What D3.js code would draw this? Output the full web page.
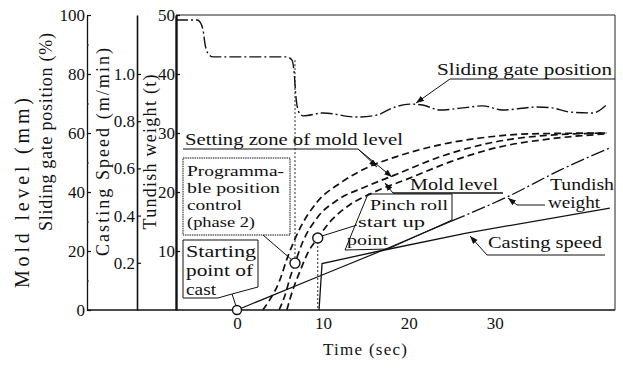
<!DOCTYPE html>
<html>
<head>
<meta charset="utf-8">
<script src="https://cdn.jsdelivr.net/npm/d3@7"></script>
<style>
  body { margin: 0; background: #fff; }
  text { font-family: "Liberation Serif", serif; fill: #111; }
</style>
</head>
<body>
<div id="chart"></div>
<script>
// tick labels
const timeTicks = [0, 10, 20, 30];
const moldTicks = [0, 20, 40, 60, 80, 100];
const speedTicks = [0.2, 0.4, 0.6, 0.8, 1.0];
const weightTicks = [10, 20, 30, 40, 50];

// sliding gate position (%)
const gateTime = [-7.1, -4.65, -4.3, -3.95, -3.7, -3.4, -2.8, 1.5, 5.8, 6.4, 6.6, 6.9, 7.2, 7.7, 10.0, 13.9, 16.3, 18.1, 20.1, 21.6, 23.6, 26.3, 28.6, 30.9, 34.9, 36.7, 38.7, 41.4, 43.0];
const gatePct = [98.3, 98.3, 97.6, 94.9, 89.8, 87.1, 85.8, 85.8, 85.8, 84.7, 82.0, 71.2, 67.1, 65.8, 66.8, 65.4, 66.1, 68.5, 69.8, 69.5, 67.8, 68.5, 69.2, 67.8, 68.8, 68.5, 67.1, 66.8, 69.5];

// mold level (mm): setting zone bounds and actual level
const zoneHiTime = [3.0, 3.8, 4.9, 5.9, 7.3, 9.3, 12.0, 15.2, 19.0, 23.6, 28.3, 34.1, 43.0];
const zoneHiMm = [0, 3.4, 9.5, 18.0, 27.5, 36.5, 43.0, 48.3, 52.4, 56.0, 58.3, 59.7, 60.0];
const moldTime = [4.9, 5.6, 6.2, 6.75, 7.6, 9.4, 11.7, 14.9, 18.4, 23.6, 29.4, 35.2, 43.0];
const moldMm = [0, 5.1, 11.2, 15.9, 22.7, 31.5, 37.3, 41.7, 45.8, 51.9, 56.6, 59.0, 60.0];
const zoneLoTime = [5.8, 6.5, 7.3, 8.3, 9.4, 10.8, 13.1, 16.0, 20.1, 24.8, 30.6, 36.4, 43.0];
const zoneLoMm = [0, 6.8, 12.9, 19.7, 24.4, 29.8, 35.6, 40.0, 44.7, 50.2, 55.3, 58.0, 59.7];

// tundish weight (t)
const weightTime = [0, 9.7, 17.6, 25.0, 31.5, 37.6, 43.6];
const weightTon = [0, 5.8, 10.5, 15.1, 19.2, 23.7, 27.6];

// casting speed (m/min)
const speedTime = [9.55, 9.9, 16.6, 26.7, 43.4];
const speedVal = [0, 0.197, 0.25, 0.326, 0.432];

// marked points (start of cast, phase 2, pinch roll start)
const markTime = [0, 6.75, 9.4];
const markMm = [0, 15.9, 24.4];

const width = 623, height = 371;
const svg = d3.select("#chart").append("svg")
  .attr("width", width).attr("height", height);

const defs = svg.append("defs");
defs.append("marker").attr("id", "arr")
  .attr("markerUnits", "userSpaceOnUse")
  .attr("markerWidth", 9).attr("markerHeight", 7)
  .attr("refX", 8).attr("refY", 3).attr("orient", "auto")
  .append("path").attr("d", "M0,0 L8,3 L0,6 z").attr("fill", "#111");

const x = d3.scaleLinear().domain([-7.1, 44]).range([176, 615]);
const yMold = d3.scaleLinear().domain([0, 100]).range([310, 15]);
const ySpeed = d3.scaleLinear().domain([0, 1.25]).range([310, 15]);
const yWeight = d3.scaleLinear().domain([0, 50]).range([310, 15]);

// frame
svg.append("line").attr("x1", 87).attr("x2", 615).attr("y1", 310).attr("y2", 310)
  .attr("stroke", "#111").attr("stroke-width", 1.5);
svg.append("line").attr("x1", 176).attr("x2", 615).attr("y1", 15).attr("y2", 15)
  .attr("stroke", "#222").attr("stroke-width", 1.2);
svg.append("line").attr("x1", 615).attr("x2", 615).attr("y1", 15).attr("y2", 310)
  .attr("stroke", "#222").attr("stroke-width", 1);

const styleAxis = (g, w) => {
  g.select(".domain").attr("stroke", "#111").attr("stroke-width", w);
  g.selectAll(".tick line").attr("stroke", "#111").attr("stroke-width", 1.2);
  g.selectAll(".tick text").style("font-family", "'Liberation Serif', serif")
    .style("font-size", "17px").attr("fill", "#111");
};

svg.append("g").attr("transform", "translate(87,0)")
  .call(d3.axisLeft(yMold).tickValues(moldTicks).tickSizeInner(-4).tickSizeOuter(0).tickPadding(2))
  .call(g => styleAxis(g, 1.3));
svg.append("g").attr("transform", "translate(87,0)")
  .call(d3.axisLeft(yMold).tickValues([10, 30, 50, 70, 90]).tickSizeInner(-2).tickSizeOuter(0).tickFormat(""))
  .call(g => g.select(".domain").remove())
  .call(g => g.selectAll(".tick line").attr("stroke", "#333"));

svg.append("g").attr("transform", "translate(137,0)")
  .call(d3.axisLeft(ySpeed).tickValues(speedTicks).tickSizeInner(-4).tickSizeOuter(0).tickPadding(2)
    .tickFormat(d3.format(".1f")))
  .call(g => styleAxis(g, 1.6));

svg.append("g").attr("transform", "translate(176,0)")
  .call(d3.axisLeft(yWeight).tickValues(weightTicks).tickSizeInner(-4).tickSizeOuter(0).tickPadding(1))
  .call(g => styleAxis(g, 2.4));

svg.append("g").attr("transform", "translate(0,310)")
  .call(d3.axisBottom(x).tickValues(timeTicks).tickSize(0).tickPadding(7))
  .call(g => g.select(".domain").remove())
  .call(g => g.selectAll(".tick text").style("font-family", "'Liberation Serif', serif")
    .style("font-size", "17px").attr("fill", "#111"));

// axis titles
const titles = [
  { text: "Mold level (mm)", cx: 22, cy: 193, len: 190, fs: 20 },
  { text: "Sliding gate position (%)", cx: 46, cy: 132, len: 198, fs: 18 },
  { text: "Casting Speed (m/min)", cx: 103, cy: 152, len: 208, fs: 18 },
  { text: "Tundish weight (t)", cx: 150, cy: 152, len: 155, fs: 18 }
];
titles.forEach(t => {
  svg.append("text")
    .attr("transform", `translate(${t.cx},${t.cy}) rotate(-90)`)
    .attr("text-anchor", "middle").attr("dy", "0.35em")
    .attr("textLength", t.len).attr("lengthAdjust", "spacing")
    .style("font-size", t.fs + "px").text(t.text);
});
svg.append("text").attr("x", 365).attr("y", 355).attr("text-anchor", "middle")
  .attr("textLength", 84).attr("lengthAdjust", "spacing")
  .style("font-size", "17px").text("Time (sec)");

// curves
const zip = (a, b) => a.map((d, i) => [d, b[i]]);
const smooth = d3.line().curve(d3.curveMonotoneX);

svg.append("path")
  .attr("d", smooth(zip(gateTime, gatePct).map(d => [x(d[0]), yMold(d[1])])))
  .attr("fill", "none").attr("stroke", "#111").attr("stroke-width", 1.4)
  .attr("stroke-dasharray", "12,3,2,3");

[[zoneHiTime, zoneHiMm], [moldTime, moldMm], [zoneLoTime, zoneLoMm]].forEach(([t, v]) => {
  svg.append("path")
    .attr("d", smooth(zip(t, v).map(d => [x(d[0]), yMold(d[1])])))
    .attr("fill", "none").attr("stroke", "#111").attr("stroke-width", 1.7)
    .attr("stroke-dasharray", "7,4");
});

const weightPts = zip(weightTime, weightTon).map(d => [x(d[0]), yWeight(d[1])]);
svg.append("path").attr("d", d3.line()(weightPts.slice(0, 4)))
  .attr("fill", "none").attr("stroke", "#111").attr("stroke-width", 1.2);
svg.append("path").attr("d", smooth(weightPts.slice(3)))
  .attr("fill", "none").attr("stroke", "#111").attr("stroke-width", 1.3)
  .attr("stroke-dasharray", "14,3,2,3");

svg.append("path")
  .attr("d", d3.line()(zip(speedTime, speedVal).map(d => [x(d[0]), ySpeed(d[1])])))
  .attr("fill", "none").attr("stroke", "#111").attr("stroke-width", 1.3);

// dotted guide lines at phase 2 and pinch roll start
svg.append("line").attr("x1", x(markTime[1])).attr("x2", x(markTime[1]))
  .attr("y1", yMold(84.7)).attr("y2", yMold(markMm[1]))
  .attr("stroke", "#222").attr("stroke-width", 1).attr("stroke-dasharray", "2,2");
svg.append("line").attr("x1", x(markTime[2])).attr("x2", x(markTime[2]))
  .attr("y1", yMold(markMm[2])).attr("y2", yMold(0))
  .attr("stroke", "#222").attr("stroke-width", 1).attr("stroke-dasharray", "2,2");

// annotations
const ann = svg.append("g").attr("fill", "none").attr("stroke", "#111").attr("stroke-width", 1);
const poly = pts => "M" + pts.map(p => p.join(",")).join("L");

ann.append("path").attr("d", poly([[183, 158], [290, 158], [290, 235], [183, 235]]) + "Z")
  .attr("stroke-dasharray", "1.5,0.8");
ann.append("path").attr("d", poly([[183, 240], [258, 240], [258, 287], [232, 294], [218, 298], [183, 298]]) + "Z");
ann.append("path").attr("d", poly([[368, 194], [452, 194], [452, 220], [388, 249], [345, 250]]) + "Z");

ann.append("path").attr("d", poly([[263, 235], [292, 260]]));
ann.append("path").attr("d", poly([[232, 294], [236, 306]]));
ann.append("path").attr("d", poly([[357, 225], [322, 236]]));

ann.append("path").attr("d", poly([[183, 149], [358, 149]]));
ann.append("path").attr("d", poly([[358, 149], [377, 167]])).attr("marker-end", "url(#arr)");
ann.append("path").attr("d", poly([[358, 149], [392, 177]])).attr("marker-end", "url(#arr)");

ann.append("path").attr("d", poly([[615, 79], [450, 79], [416, 103]])).attr("marker-end", "url(#arr)");
ann.append("path").attr("d", poly([[503, 193], [393, 193]])).attr("stroke-width", 1.6);
ann.append("path").attr("d", poly([[393, 193], [385, 183]])).attr("marker-end", "url(#arr)");
ann.append("path").attr("d", poly([[545, 205], [517, 205], [508, 198]])).attr("marker-end", "url(#arr)");
ann.append("path").attr("d", poly([[605, 255], [487, 255], [470, 236]])).attr("marker-end", "url(#arr)");

const notes = [
  { text: "Sliding gate position", x: 437, y: 75, len: 175, fs: 17 },
  { text: "Setting zone of mold level", x: 185, y: 145, len: 218, fs: 17 },
  { text: "Programma-", x: 187, y: 176, len: 97, fs: 15 },
  { text: "ble position", x: 187, y: 193, len: 93, fs: 15 },
  { text: "control", x: 187, y: 210, len: 55, fs: 15 },
  { text: "(phase 2)", x: 187, y: 227, len: 68, fs: 15 },
  { text: "Starting", x: 186, y: 257, len: 70, fs: 16 },
  { text: "point of", x: 186, y: 276, len: 67, fs: 16 },
  { text: "cast", x: 186, y: 295, len: 30, fs: 16 },
  { text: "Pinch roll", x: 370, y: 210, len: 78, fs: 15 },
  { text: "start up", x: 358, y: 227, len: 67, fs: 15 },
  { text: "point", x: 347, y: 245, len: 41, fs: 15 },
  { text: "Mold level", x: 410, y: 190, len: 88, fs: 17 },
  { text: "Tundish", x: 550, y: 190, len: 64, fs: 16 },
  { text: "weight", x: 548, y: 208, len: 52, fs: 16 },
  { text: "Casting speed", x: 488, y: 248, len: 114, fs: 17 }
];
svg.append("g").selectAll("text").data(notes).join("text")
  .attr("x", d => d.x).attr("y", d => d.y)
  .attr("textLength", d => d.len).attr("lengthAdjust", "spacingAndGlyphs")
  .style("font-size", d => d.fs + "px").text(d => d.text);

// circles
svg.append("g").selectAll("circle").data(zip(markTime, markMm)).join("circle")
  .attr("cx", d => x(d[0])).attr("cy", d => yMold(d[1]))
  .attr("r", (d, i) => i === 0 ? 4.5 : 5)
  .attr("fill", "#fff").attr("stroke", "#111").attr("stroke-width", 1.4);
</script>
</body>
</html>
